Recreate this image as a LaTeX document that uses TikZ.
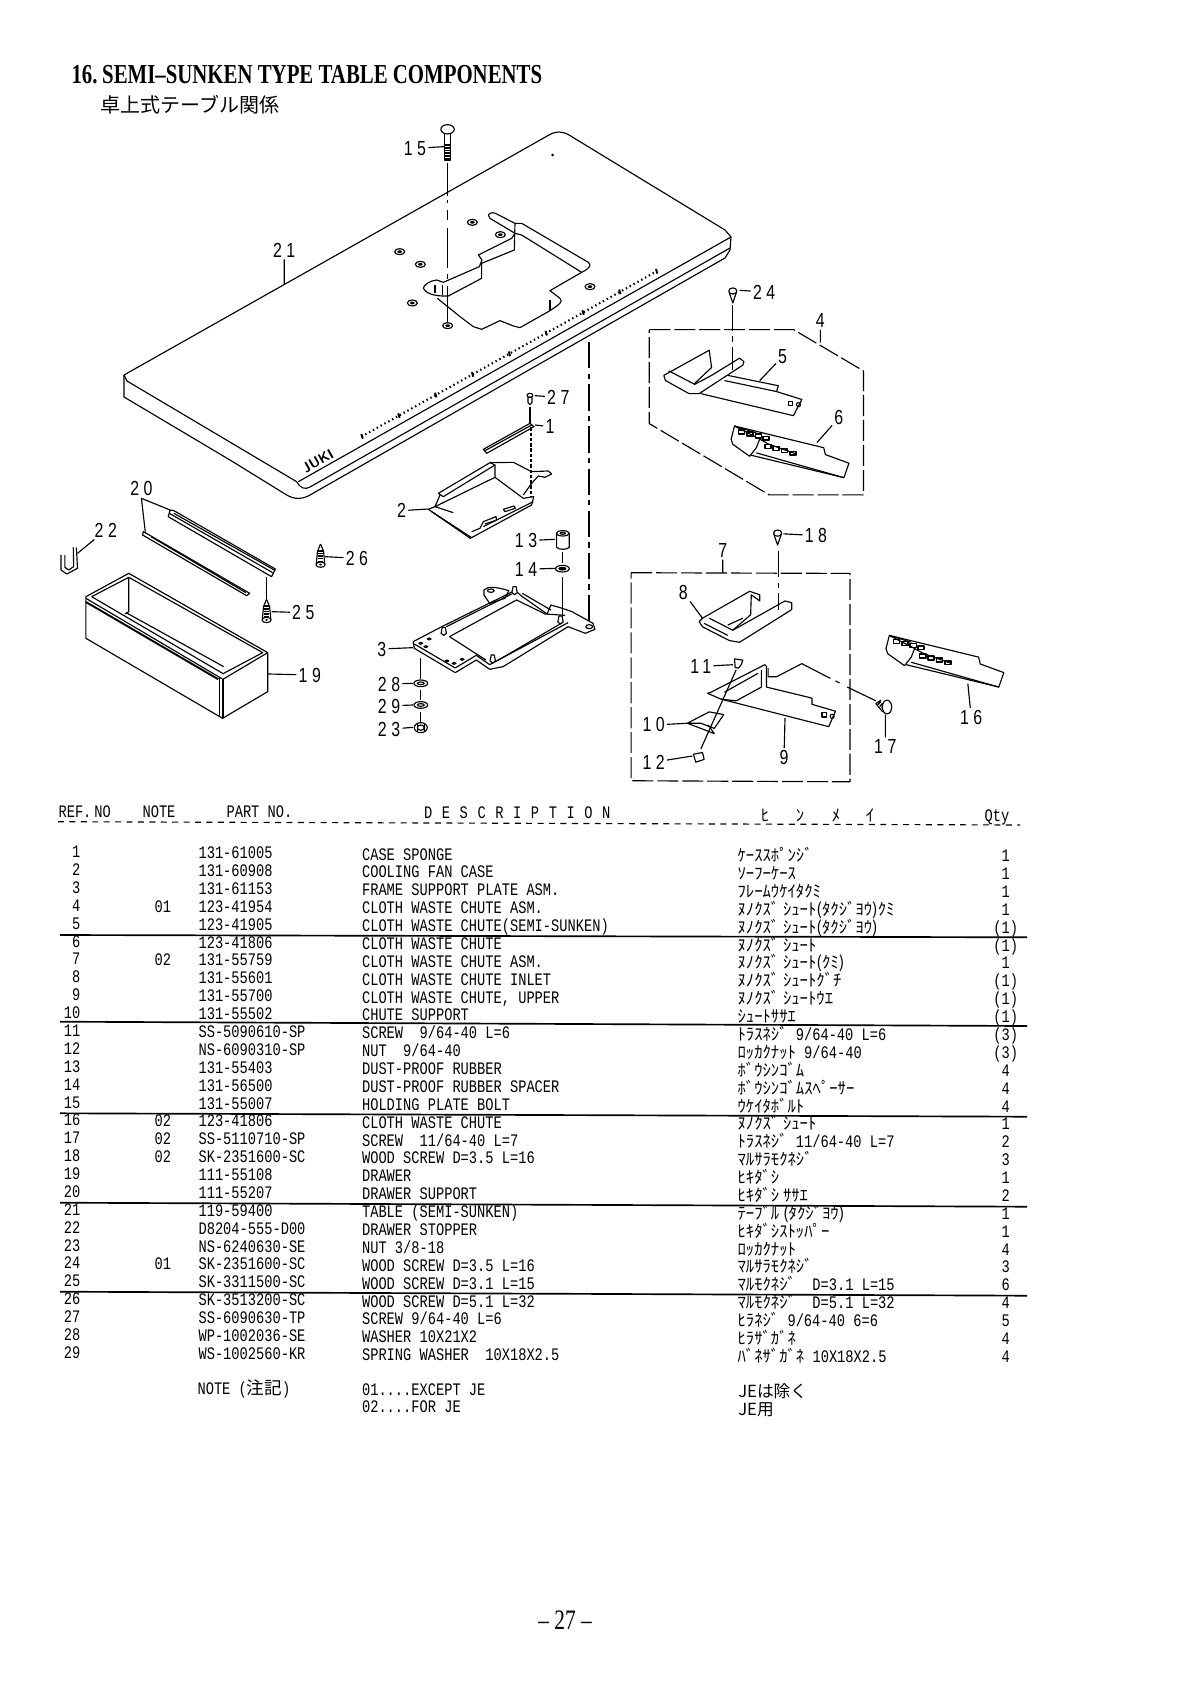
\documentclass[tikz,border=0pt]{standalone}
\usepackage{fontspec}
\usepackage{tikz}
\usetikzlibrary{calc}
\newfontfamily\partfont[FakeStretch=.78]{Liberation Mono}
\newfontfamily\headfont[FakeStretch=.78,LetterSpace=7.8]{Liberation Mono}
\newfontfamily\kanafont[WordSpace=2.2]{Noto Sans CJK JP}
\newfontfamily\jpfont{Noto Sans CJK JP}
\newfontfamily\titlefont[FakeStretch=.76]{Liberation Serif}
\newfontfamily\calloutfont[FakeStretch=.78,LetterSpace=22]{Liberation Sans}
\newcommand{\latn}[1]{{\fontsize{10}{10}\partfont #1}}
\tikzset{
    callout/.style = {font = \fontsize{11.6}{11.6}\calloutfont, inner sep = 1pt},
    cell/.style = {font = \fontsize{10}{10}\partfont, inner sep = 0pt},
    kanacell/.style = {font = \fontsize{9.5}{9.5}\kanafont, inner sep = 0pt},
    headcell/.style = {font = \fontsize{10}{10}\partfont, inner sep = 0pt, anchor = base west},
    tablerule/.style = {line width = .95pt},
    chainline/.style = {dash pattern = on 15pt off 3pt on 3pt off 3pt},
    phantomline/.style = {dash pattern = on 12pt off 2.2pt},
    viewTable/.style = {shift = {(40,40)}, xscale = .4464, yscale = .3333},
    viewChute/.style = {shift = {(620,260)}, xscale = .3367, yscale = .3444},
    viewDrawer/.style = {shift = {(40,470)}, xscale = .3827, yscale = .3333},
    viewCut/.style = {shift = {(380,200)}, scale = .3333},
    viewFan/.style = {shift = {(390,390)}, scale = .3333},
}
\newcommand{\bolthole}[1]{\begin{scope}[shift = {(#1)}]
    \draw (0,0) ellipse [x radius = 15, y radius = 9];
    \fill (0,0) ellipse [x radius = 7, y radius = 4.2];
\end{scope}}
\newcommand{\teardrop}[1]{\begin{scope}[shift = {(#1)}]
    \draw (0,0) ellipse [x radius = 12, y radius = 9];
    \draw (-11,3) -- (0,35) -- (11,3);
\end{scope}}
\newcommand{\threadscrew}[1]{\begin{scope}[shift = {(#1)}]
    \draw (0,0) -- (-8,22) -- (-11,60);
    \draw (0,0) -- (8,22) -- (11,60);
    \draw[line width = 2.6pt, dash pattern = on .9pt off .6pt] (0,18) -- (0,56);
    \draw[fill = white] (0,62) ellipse [x radius = 12, y radius = 8];
    \fill (0,62) ellipse [x radius = 4, y radius = 3];
\end{scope}}
\newcommand{\washer}[1]{\begin{scope}[shift = {(#1)}]
    \draw (0,0) ellipse [x radius = 18, y radius = 10];
    \draw (0,0) ellipse [x radius = 9, y radius = 4];
\end{scope}}
\newcommand{\coverpart}[1]{\begin{scope}[shift = {(#1)}]
    \draw (0,0) -- (265,63) -- (270,83) -- (340,108) -- (325,150) -- (50,85);
    \draw (0,0) -- (-10,38) -- (-5,53) -- (45,88) -- (65,63) -- (75,38) -- cycle;
    \draw (0,0) -- (65,20);
    \draw (75,38) -- (100,52) -- (180,80);
    \draw (65,78) -- (325,150);
    \foreach \hx/\hy in {12/12,37/18,62/24,85/30,90/54,115/60,140/66,165/74}
        \draw[line width = .9pt] (\hx,\hy) rectangle ++(18,11);
\end{scope}}
\begin{document}
\begin{tikzpicture}[x = .02cm, y = -.02cm, line width = .65pt, line join = round]
    \useasboundingbox (0,0) rectangle (1190,1690);

    \node (Title) [font = \fontsize{15.6}{15.6}\titlefont\bfseries, inner sep = 0pt, anchor = base west] at (71,83) {16.\,SEMI–SUNKEN TYPE TABLE COMPONENTS};
    \node (Subtitle) [font = \fontsize{11.4}{11.4}\jpfont, inner sep = 0pt, anchor = west] at (100,105) {卓上式テーブル関係};
    \node (Page) [font = \fontsize{16}{16}\titlefont, inner sep = 0pt] at (565,1620) {– 27 –};

    \draw (124,375) -- (549,135) .. controls (556,131) and (562,131) .. (569,135) -- (725,230) -- (731,237) -- (730,250) -- (725,258);
    \draw (124,375) -- (124,397) -- (230,460) -- (286.7,495) .. controls (295,500) and (303,499) .. (310,495) -- (725,258);
    \draw (124,375) -- (127,381) -- (296.7,481.7) .. controls (300,488) and (305,490) .. (310,487) -- (730,248);
    \draw (298.3,481.7) -- (731,237);
    \fill (552.5,155) circle [radius = 1.5];
    \begin{scope}[viewTable]
        \draw[line width = 1.2pt, dash pattern = on .8pt off 1.7pt] (720,1190) -- (1380,695);
        \foreach \t in {0,...,8}
            \draw[line width = 1.1pt] ({720+82.5*\t},{1190-61.9*\t-8}) -- ++(3,14);
        \draw (913,268) ellipse [x radius = 15, y radius = 14];
        \draw (906,282) -- (906,360) -- (920,360) -- (920,282);
        \draw[line width = 3.4pt, dash pattern = on 1pt off .6pt] (913,312) -- (913,360);
    \end{scope}
    \begin{scope}[viewCut]
        \draw (325,45) .. controls (330,35) and (345,38) .. (350,42) -- (405,70) -- (425,70) -- (625,187) .. controls (635,195) and (630,205) .. (605,217) -- (510,272) -- (540,295) .. controls (550,305) and (540,312) .. (510,332) -- (420,383) -- (400,378) -- (360,362) -- (305,388) -- (280,380) -- (240,350) -- (228,340) -- (172,295);
        \draw (325,45) -- (330,55) -- (405,100) -- (395,115) -- (295,165) -- (306,180) -- (298,200) -- (190,247) -- (170,240) .. controls (150,242) and (130,255) .. (130,265) .. controls (135,278) and (160,290) .. (205,288) -- (305,235) -- (305,190) -- (403,150) -- (405,70);
        \draw (405,100) -- (425,105) -- (605,217);
        \draw (510,300) -- (510,332);
        \draw (165,255) -- (165,280);
        \draw (187,255) -- (187,285);
        \foreach \hx/\hy in {277/67,361/104,59/155,121/193,97/309,203/377,630/260}
            \bolthole{\hx,\hy};
        \draw (203,0) -- (203,10);
        \draw (203,30) -- (203,60);
        \draw (203,85) -- (203,205);
        \draw (203,222) -- (203,237);
        \draw (203,257) -- (203,370);
    \end{scope}
    \draw (447.6,163) -- (447.6,196);
    \node (Maker) [font = \fontsize{8}{8}\sffamily\bfseries, rotate = 30, inner sep = 0pt] at (318,461) {JUKI};

    \draw[chainline] (589,342) -- (589,622);

    \begin{scope}[viewDrawer]
        \draw (120,380) -- (120,505) -- (477,745) -- (595,665) -- (595,548) -- (232,310) -- cycle;
        \draw (470,622) -- (470,738);
        \draw (478,628) -- (478,745);
        \draw (478,628) -- (595,548);
        \draw (120,385) -- (478,628);
        \draw[line width = 1.1pt] (120,396) -- (466,628);
        \draw (135,380) -- (480,612);
        \draw (135,380) -- (232,322) -- (582,548) -- (480,610);
        \draw (232,322) -- (232,425) -- (222,432);
        \draw (225,428) -- (480,590);

        \draw (340,120) -- (350,122) -- (615,297) -- (605,320) -- (335,140) -- cycle;
        \draw (338,130) -- (608,308);
        \draw (350,130) -- (612,300);
        \draw (270,185) -- (278,190) -- (548,370) -- (540,377) -- (268,195) -- cycle;
        \draw (290,200) -- (538,368);

        \draw (55,255) -- (55,300) -- (70,312) -- (98,295) -- (95,232);
        \draw (65,255) -- (65,292) -- (75,300) -- (88,290) -- (87,232);

        \threadscrew{733,222}
        \draw (592,322) -- (592,388);
        \threadscrew{592,388}

        \draw (975,515) -- (978,535) -- (1085,608) -- (1140,570) -- (1175,598) -- (1210,590) -- (1380,470) -- (1425,490) -- (1450,478) -- (1445,460) -- (1390,425) -- (1365,415) -- (1335,405) -- (1325,432) -- (1258,378) -- (1240,360);
        \draw (975,515) -- (1050,470) -- (1235,365);
        \draw (978,522) -- (1085,594) -- (1140,556) -- (1175,584) -- (1380,458);
        \draw (1070,500) -- (1245,390) -- (1320,432) -- (1372,436);
        \draw (1062,470) -- (1232,372);
        \draw (1070,500) -- (1165,570);
        \draw (1195,572) -- (1362,460);
        \draw (1260,370) -- (1335,420);
        \draw (1160,360) .. controls (1170,348) and (1190,350) .. (1225,362) -- (1215,385) -- (1175,400) -- (1160,375) -- cycle;
        \draw (1178,362) ellipse [x radius = 9, y radius = 5];
        \foreach \hx/\hy in {995/520,1008/530,1017/507,1063/573,1082/580,1103/568}
            \draw (\hx,\hy) ellipse [x radius = 5, y radius = 3];
        \draw (1435,470) ellipse [x radius = 9, y radius = 6];
        \foreach \hx/\hy in {1055/482,1240/360,1360/448,1183/565}
            \draw[fill = white] (\hx-7,\hy+8) -- (\hx-4,\hy-10) -- (\hx+4,\hy-10) -- (\hx+7,\hy+8) -- (\hx,\hy+14) -- cycle;

        \draw (1350,190) -- (1350,232) .. controls (1355,240) and (1378,240) .. (1383,232) -- (1383,190);
        \draw[fill = white] (1366,190) ellipse [x radius = 17, y radius = 8];
        \draw (1366,190) ellipse [x radius = 7, y radius = 3];
        \draw (1365,245) -- (1365,280);
        \washer{1365,296}
        \fill (1365,296) ellipse [x radius = 8, y radius = 4];
        \draw (1365,320) -- (1365,440);
        \draw (995,565) -- (995,628);
        \washer{995,640}
        \draw (995,660) -- (995,690);
        \washer{995,705}
        \draw (995,725) -- (995,755);
        \draw (995,773) ellipse [x radius = 17, y radius = 15];
        \draw (995,773) ellipse [x radius = 9, y radius = 8];
        \draw (986,762) -- (986,785);
        \draw (1004,762) -- (1004,785);

        \foreach \Num/\lx/\ly/\px/\py in {19/705/615/595/612, 22/172/180/98/250, 25/688/428/605/425, 26/828/265/745/260, 2/945/122/1015/117, 3/893/537/975/533, 13/1270/212/1345/208, 14/1270/298/1345/295, 28/912/642/975/640, 29/912/708/975/705, 23/912/778/975/772} {
            \node (Call\Num) [callout] at (\lx,\ly) {\Num};
            \coordinate (Part\Num) at (\px,\py);
            \draw (Call\Num) -- (Part\Num);
        }
        \node (Call20) [callout] at (265,55) {20};
        \coordinate (Fork20) at (265,85);
        \coordinate (RailUpper) at (340,120);
        \coordinate (RailLower) at (275,185);
        \draw (RailUpper) -- (Fork20) -- (RailLower);
    \end{scope}

    \begin{scope}[viewFan]
        \draw (420,16) ellipse [x radius = 9, y radius = 6];
        \draw[fill = white] (414,22) -- (414,38) -- (420,44) -- (426,38) -- (426,22) -- cycle;
        \draw (420,50) -- (420,100);
        \draw[fill = white] (280,178) -- (290,190) -- (432,110) -- (420,100) -- cycle;
        \draw (285,182) -- (425,105);
        \draw[dash pattern = on 2pt off 1pt] (423,112) -- (423,320);
        \draw (115,358) -- (241,445) -- (425,345) -- (431,320) -- (400,325) -- (315,262);
        \draw (115,358) -- (135,350) -- (150,315);
        \draw (145,310) -- (300,218) -- (315,225) -- (160,320) -- cycle;
        \draw (300,218) -- (370,217) -- (425,245) -- (475,243) -- (485,252) -- (465,262) -- (445,258) -- (425,280) -- (400,315);
        \draw (315,225) -- (315,262) -- (135,350) -- (190,368);
        \draw (125,365) -- (245,443);
        \draw (245,425) -- (270,415) -- (280,395) -- (318,380) -- (320,390) -- (285,402);
        \draw (340,358) -- (372,348) -- (376,355) -- (345,365) -- cycle;
        \draw (280,410) -- (430,335);
        \foreach \Num/\lx/\ly/\px/\py in {27/505/22/435/17, 1/480/110/435/105} {
            \node (Call\Num) [callout] at (\lx,\ly) {\Num};
            \coordinate (Part\Num) at (\px,\py);
            \draw (Call\Num) -- (Part\Num);
        }
    \end{scope}

    \begin{scope}[viewChute]
        \draw[phantomline] (87,202) -- (515,202) -- (723,322) -- (723,682) -- (443,682) -- (87,475) -- cycle;
        \draw[phantomline] (33,908) -- (683,910) -- (683,1515) -- (33,1512) -- cycle;

        \teardrop{335,90}
        \draw[chainline] (335,130) -- (335,320);
        \draw (130,335) -- (265,262) -- (272,312) -- (220,360) -- (145,322);
        \draw (130,335) -- (135,350) -- (205,388) -- (235,388) -- (365,305) -- (368,295) -- (355,285) -- (272,335) -- (220,362);
        \draw (320,335) -- (470,365) -- (465,382) -- (310,350);
        \draw (240,388) -- (515,452) -- (540,405) -- (465,382);
        \draw (500,410) rectangle ++(12,12);
        \draw (530,420) circle [radius = 6];

        \coverpart{340,482}
        \coverpart{800,1090}

        \teardrop{468,793}
        \draw[chainline] (470,845) -- (470,1015);
        \draw (235,1050) -- (245,1040) -- (385,962) -- (415,972) -- (415,990) -- (390,972) -- (388,1030) -- (335,1075) -- (265,1040);
        \draw (235,1050) -- (245,1065) -- (325,1105) -- (355,1110) -- (510,1015) -- (510,995) -- (490,990) -- (335,1075);
        \draw (320,1060) -- (365,1040);
        \draw (250,1055) -- (320,1090);

        \draw (260,1258) -- (300,1275) -- (620,1355) -- (640,1310) -- (570,1290) -- (570,1272) -- (435,1240) -- (435,1180) -- (430,1175) -- (270,1255) -- cycle;
        \draw (300,1275) -- (345,1280) -- (420,1240) -- (420,1190);
        \draw (310,1255) -- (410,1200);
        \draw (440,1185) -- (440,1210) -- (465,1210) -- (540,1172) -- (625,1215);
        \draw (640,1222) -- (652,1228);
        \draw (675,1240) -- (760,1280);
        \draw (600,1315) rectangle ++(12,12);
        \draw (630,1325) circle [radius = 6];

        \draw[fill = white] (340,1158) -- (365,1162) -- (360,1175) -- (352,1185) -- (342,1183) -- cycle;
        \draw (345,1190) -- (240,1420);
        \draw (200,1345) -- (265,1312) -- (308,1320) -- (280,1360) -- (240,1345) -- cycle;
        \draw (200,1345) -- (280,1375) -- (262,1350);
        \draw[fill = white] (218,1435) -- (245,1430) -- (250,1450) -- (225,1458) -- cycle;

        \draw (775,1278) -- (760,1288) -- (780,1312);
        \draw[line width = 2.4pt, dash pattern = on .9pt off .7pt] (768,1285) -- (785,1300);
        \draw[fill = white] (793,1298) ellipse [x radius = 14, y radius = 20];

        \foreach \Num/\lx/\ly/\px/\py in {24/428/93/355/88, 4/595/175/595/240, 5/483/280/415/350, 6/650/458/585/530, 18/582/800/485/795, 7/305/843/305/908, 8/188/965/245/1040, 9/487/1445/490/1330, 11/240/1180/335/1175, 10/100/1350/200/1345, 12/100/1458/215/1440, 17/788/1413/788/1320, 16/1043/1328/1033/1230} {
            \node (Call\Num) [callout] at (\lx,\ly) {\Num};
            \coordinate (Part\Num) at (\px,\py);
            \draw (Call\Num) -- (Part\Num);
        }
    \end{scope}

    \begin{scope}[viewTable]
        \foreach \Num/\lx/\ly/\px/\py in {15/840/325/905/320, 21/547/630/547/735} {
            \node (Call\Num) [callout] at (\lx,\ly) {\Num};
            \coordinate (Part\Num) at (\px,\py);
            \draw (Call\Num) -- (Part\Num);
        }
    \end{scope}

    \node (HeadRef) [headcell] at (58,817) {REF.\,NO};
    \node (HeadNote) [headcell] at (142,817) {NOTE};
    \node (HeadPart) [headcell] at (226,817) {PART NO.};
    \node (HeadDesc) [headcell, font = \fontsize{10}{10}\headfont] at (423.5,818) {D E S C R I P T I O N};
    \foreach \Kana/\kx in {ﾋ/765,ﾝ/800,ﾒ/836,ｲ/870}
        \node (Head\kx) [kanacell, anchor = base] at (\kx,821) {\Kana};
    \node (HeadQty) [headcell] at (984,821) {Qty};
    \draw[dash pattern = on 3.4pt off 3.1pt] (58,821.7) -- (1020,825);

    \foreach \Note/\Part/\Descr/\Kana/\Qty [count = \i] in {
        /131-61005/CASE SPONGE/ｹｰｽｽﾎﾟﾝｼﾞ/1,
        /131-60908/COOLING FAN CASE/ｿｰﾌｰｹｰｽ/1,
        /131-61153/FRAME SUPPORT PLATE ASM./ﾌﾚｰﾑｳｹｲﾀｸﾐ/1,
        01/123-41954/CLOTH WASTE CHUTE ASM./ﾇﾉｸｽﾞ ｼｭｰﾄ(ﾀｸｼﾞﾖｳ)ｸﾐ/1,
        /123-41905/CLOTH WASTE CHUTE(SEMI-SUNKEN)/ﾇﾉｸｽﾞ ｼｭｰﾄ(ﾀｸｼﾞﾖｳ)/(1),
        /123-41806/CLOTH WASTE CHUTE/ﾇﾉｸｽﾞ ｼｭｰﾄ/(1),
        02/131-55759/CLOTH WASTE CHUTE ASM./ﾇﾉｸｽﾞ ｼｭｰﾄ(ｸﾐ)/1,
        /131-55601/CLOTH WASTE CHUTE INLET/ﾇﾉｸｽﾞ ｼｭｰﾄｸﾞﾁ/(1),
        /131-55700/{CLOTH WASTE CHUTE, UPPER}/ﾇﾉｸｽﾞ ｼｭｰﾄｳｴ/(1),
        /131-55502/CHUTE SUPPORT/ｼｭｰﾄｻｻｴ/(1),
        /SS-5090610-SP/{SCREW~ 9/64-40 L=6}/{ﾄﾗｽﾈｼﾞ\latn{\ 9/64-40 L=6}}/(3),
        /NS-6090310-SP/{NUT~ 9/64-40}/{ﾛｯｶｸﾅｯﾄ\latn{\ 9/64-40}}/(3),
        /131-55403/DUST-PROOF RUBBER/ﾎﾞｳｼﾝｺﾞﾑ/4,
        /131-56500/DUST-PROOF RUBBER SPACER/ﾎﾞｳｼﾝｺﾞﾑｽﾍﾟｰｻｰ/4,
        /131-55007/HOLDING PLATE BOLT/ｳｹｲﾀﾎﾞﾙﾄ/4,
        02/123-41806/CLOTH WASTE CHUTE/ﾇﾉｸｽﾞ ｼｭｰﾄ/1,
        02/SS-5110710-SP/{SCREW~ 11/64-40 L=7}/{ﾄﾗｽﾈｼﾞ\latn{\ 11/64-40 L=7}}/2,
        02/SK-2351600-SC/{WOOD SCREW D=3.5 L=16}/ﾏﾙｻﾗﾓｸﾈｼﾞ/3,
        /111-55108/DRAWER/ﾋｷﾀﾞｼ/1,
        /111-55207/DRAWER SUPPORT/ﾋｷﾀﾞｼ ｻｻｴ/2,
        /119-59400/TABLE (SEMI-SUNKEN)/ﾃｰﾌﾞﾙ (ﾀｸｼﾞﾖｳ)/1,
        /D8204-555-D00/DRAWER STOPPER/ﾋｷﾀﾞｼｽﾄｯﾊﾟｰ/1,
        /NS-6240630-SE/{NUT 3/8-18}/ﾛｯｶｸﾅｯﾄ/4,
        01/SK-2351600-SC/{WOOD SCREW D=3.5 L=16}/ﾏﾙｻﾗﾓｸﾈｼﾞ/3,
        /SK-3311500-SC/{WOOD SCREW D=3.1 L=15}/{ﾏﾙﾓｸﾈｼﾞ\latn{~ D=3.1 L=15}}/6,
        /SK-3513200-SC/{WOOD SCREW D=5.1 L=32}/{ﾏﾙﾓｸﾈｼﾞ\latn{~ D=5.1 L=32}}/4,
        /SS-6090630-TP/{SCREW 9/64-40 L=6}/{ﾋﾗﾈｼﾞ\latn{\ 9/64-40 6=6}}/5,
        /WP-1002036-SE/WASHER 10X21X2/ﾋﾗｻﾞｶﾞﾈ/4,
        /WS-1002560-KR/{SPRING WASHER~ 10X18X2.5}/{ﾊﾞﾈｻﾞｶﾞﾈ\latn{\ 10X18X2.5}}/4%
    } {
        \pgfmathsetmacro{\rowy}{857.7 + 17.88*(\i-1)}
        \node (Ref\i) [cell, anchor = base east] at (81,\rowy) {\i};
        \ifx\Note\empty\else
            \node (Note\i) [cell, anchor = base west] at (154,\rowy+1) {\Note};
        \fi
        \node (Part\i) [cell, anchor = base west] at (198,\rowy+1) {\Part};
        \node (Desc\i) [cell, anchor = base west] at (361.5,\rowy+2.3) {\Descr};
        \node (Kana\i) [kanacell, anchor = base west] at (737,\rowy+4) {\Kana};
        \node (Qty\i) [cell, anchor = base] at (1005.7,\rowy+4) {\Qty};
    }

    \foreach \ly/\ry in {935/937.3, 1021.7/1026, 1113.3/1116.7, 1202.7/1206.7, 1291.7/1295.7}
        \draw[tablerule] (60,\ly) -- (1027,\ry);

    \node (NoteHead) [cell, anchor = base west] at (197,1394) {NOTE ({\jpfont 注記})};
    \node (NoteOne) [cell, anchor = base west] at (361.5,1395) {01....EXCEPT JE};
    \node (NoteTwo) [cell, anchor = base west] at (361.5,1412.7) {02....FOR JE};
    \node (NoteOneJp) [kanacell, anchor = base west] at (737.7,1397.7) {JEは除く};
    \node (NoteTwoJp) [kanacell, anchor = base west] at (737.7,1415) {JE用};
\end{tikzpicture}
\end{document}
